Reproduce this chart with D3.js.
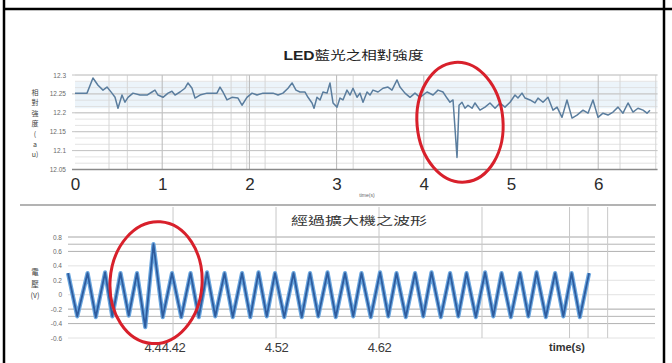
<!DOCTYPE html>
<html>
<head>
<meta charset="utf-8">
<script src="https://cdn.jsdelivr.net/npm/d3@7/dist/d3.min.js"></script>
<style>
  html, body { margin: 0; padding: 0; background: #fff; }
  svg { display: block; }
  text { font-family: "Liberation Sans", Arial, sans-serif; }
  .cjk { font-family: "Noto Sans CJK TC", "Noto Sans CJK SC", sans-serif; }
</style>
</head>
<body>
<svg id="chart" width="672" height="363"></svg>
<script>
// ---- LED blue-light relative intensity (upper panel) ----
const ledTime = [0.000,0.138,0.206,0.264,0.321,0.367,0.424,0.459,0.493,0.539,0.573,0.608,0.665,0.745,0.826,0.883,0.917,0.952,
  1.009,1.067,1.112,1.147,1.204,1.261,1.296,1.342,1.376,1.433,1.514,1.628,1.663,1.697,1.743,1.800,1.869,1.915,1.972,
  2.030,2.087,2.156,2.271,2.328,2.385,2.443,2.489,2.534,2.580,2.638,2.672,2.718,2.741,2.775,2.810,2.844,2.890,2.924,2.959,
  3.005,3.039,3.073,3.119,3.154,3.188,3.234,3.268,3.303,3.349,3.383,3.417,3.475,3.532,3.589,3.635,3.693,3.727,3.784,3.842,3.899,3.956,
  4.037,4.106,4.163,4.220,4.266,4.300,4.335,4.381,4.404,4.438,4.472,4.507,4.553,4.587,4.644,4.702,4.759,4.817,4.874,4.931,4.989,
  5.046,5.080,5.126,5.161,5.218,5.275,5.310,5.367,5.424,5.482,5.528,5.585,5.642,5.700,5.757,5.826,5.883,5.940,5.998,
  6.055,6.112,6.170,6.227,6.284,6.342,6.399,6.456,6.514,6.560,6.594];
const ledValue = [12.252,12.252,12.292,12.273,12.260,12.268,12.252,12.241,12.212,12.247,12.228,12.241,12.252,12.247,12.247,12.255,12.260,12.247,
  12.241,12.252,12.257,12.247,12.255,12.265,12.279,12.265,12.239,12.247,12.252,12.252,12.268,12.255,12.234,12.241,12.239,12.220,12.241,
  12.252,12.247,12.252,12.252,12.247,12.252,12.265,12.279,12.260,12.255,12.255,12.241,12.226,12.212,12.241,12.234,12.255,12.252,12.279,12.226,
  12.215,12.239,12.234,12.260,12.247,12.265,12.241,12.252,12.228,12.255,12.247,12.260,12.255,12.265,12.268,12.260,12.287,12.268,12.252,12.241,12.252,12.241,
  12.255,12.247,12.260,12.255,12.239,12.228,12.234,12.082,12.220,12.228,12.212,12.220,12.212,12.226,12.207,12.215,12.226,12.212,12.226,12.215,12.228,
  12.247,12.239,12.252,12.239,12.234,12.226,12.239,12.228,12.241,12.207,12.215,12.188,12.234,12.186,12.194,12.207,12.199,12.234,12.188,
  12.199,12.194,12.202,12.215,12.199,12.226,12.202,12.212,12.207,12.199,12.207];
const ledXTicks = [0, 1, 2, 3, 4, 5, 6];
const ledYTicks = [12.05, 12.1, 12.15, 12.2, 12.25, 12.3];
const ledYLabels = ["12.05", "12.1", "12.15", "12.2", "12.25", "12.3"];
const ledGridTimes = [0.39, 0.6, 1, 1.58, 1.79, 1.97, 2, 2.18, 3, 3.19, 4, 5, 5.18, 5.41, 5.56, 6, 6.25, 6.66];

// ---- Amplifier output waveform (lower panel) ----
const ampTime = [4.318,4.327,4.337,4.345,4.354,4.361,4.369,4.377,4.385,4.393,4.401,4.410,4.419,4.428,4.437,4.445,4.453,4.461,
  4.470,4.478,4.487,4.495,4.503,4.511,4.519,4.528,4.537,4.545,4.553,4.561,4.570,4.578,4.587,4.595,4.603,4.612,4.621,4.629,
  4.637,4.646,4.655,4.663,4.671,4.680,4.689,4.697,4.705,4.714,4.723,4.731,4.739,4.748,4.757,4.765,4.773,4.782,4.791,4.799,
  4.807,4.815,4.824];
const ampVolt = [0.30,-0.30,0.30,-0.31,0.31,-0.30,0.30,-0.29,0.30,-0.45,0.70,-0.31,0.30,-0.31,0.30,-0.31,0.31,-0.30,
  0.30,-0.31,0.30,-0.31,0.31,-0.30,0.30,-0.31,0.30,-0.31,0.30,-0.30,0.31,-0.31,0.30,-0.30,0.30,-0.31,0.31,-0.30,
  0.30,-0.31,0.30,-0.30,0.31,-0.31,0.30,-0.30,0.30,-0.31,0.31,-0.30,0.30,-0.31,0.30,-0.30,0.31,-0.31,0.30,-0.30,
  0.30,-0.31,0.30];
const ampXTicks = [4.4, 4.42, 4.52, 4.62];
const ampXLabels = ["4.4", "4.42", "4.52", "4.62"];
const ampYTicks = [-0.6, -0.4, -0.2, 0, 0.2, 0.4, 0.6, 0.8];
const ampYLabels = ["-0.6", "-0.4", "-0.2", "0", "0.2", "0.4", "0.6", "0.8"];
const ampGridTimes = [4.42, 4.52, 4.62, 4.72, 4.805, 4.823, 4.842];
const ampGridVolts = [0.8, 0.7, 0.6, -0.2, -0.3, -0.4];

const svg = d3.select("#chart");
svg.append("rect").attr("width", 672).attr("height", 363).attr("fill", "#fff");

// stacks one glyph per row to form a vertical axis name
function verticalName(g, glyphs, x, y0, step, size) {
  g.append("g").selectAll("text")
    .data(glyphs)
    .join("text")
    .attr("class", "cjk")
    .attr("x", x).attr("y", (d, i) => y0 + i * step)
    .attr("text-anchor", "middle")
    .attr("font-size", size).attr("fill", "#444")
    .text(d => d);
}

// ================= upper panel =================
const xTop = d3.scaleLinear().domain([0, 6.68]).range([75, 657.5]);
const yTop = d3.scaleLinear().domain([12.05, 12.3]).range([169.5, 75]);
const topG = svg.append("g");

// pale band behind the trace
topG.append("rect")
  .attr("x", xTop(0)).attr("width", xTop(6.68) - xTop(0))
  .attr("y", yTop(12.282)).attr("height", yTop(12.212) - yTop(12.282))
  .attr("fill", "#e4eff8").attr("opacity", 0.7);

// minor horizontal grid
topG.append("g").selectAll("line")
  .data(d3.range(12.05, 12.3001, 0.05 / 3))
  .join("line")
  .attr("x1", xTop(0)).attr("x2", xTop(6.68))
  .attr("y1", d => yTop(d)).attr("y2", d => yTop(d))
  .attr("stroke", "#dcdcdc").attr("stroke-width", 0.8);

// vertical grid
topG.append("g").selectAll("line")
  .data(ledGridTimes)
  .join("line")
  .attr("x1", d => xTop(d)).attr("x2", d => xTop(d))
  .attr("y1", yTop(12.3)).attr("y2", yTop(12.05))
  .attr("stroke", d => Number.isInteger(d) ? "#b8b8b8" : "#d6d6d6").attr("stroke-width", 1);

// major horizontal grid
topG.append("g").selectAll("line")
  .data(ledYTicks)
  .join("line")
  .attr("x1", xTop(0) - 3).attr("x2", xTop(6.68))
  .attr("y1", d => yTop(d)).attr("y2", d => yTop(d))
  .attr("stroke", d => d === 12.05 ? "#8a8a8a" : "#c4c4c4").attr("stroke-width", d => d === 12.05 ? 1.4 : 1);

// trace
const ledPts = ledTime.map((t, i) => [t, ledValue[i]]);
topG.append("path")
  .datum(ledPts)
  .attr("fill", "none")
  .attr("stroke", "#5a7d9e")
  .attr("stroke-width", 1.5)
  .attr("stroke-linejoin", "round")
  .attr("d", d3.line().x(d => xTop(d[0])).y(d => yTop(d[1])));

// axes
const topXAxis = topG.append("g")
  .attr("transform", `translate(0,${yTop(12.05)})`)
  .call(d3.axisBottom(xTop).tickValues(ledXTicks).tickSize(0).tickPadding(8).tickFormat(d3.format("d")));
topXAxis.select(".domain").remove();
topXAxis.selectAll("text").attr("font-size", 17).attr("fill", "#2b2b2b");

const topYAxis = topG.append("g")
  .attr("transform", `translate(66,0)`)
  .call(d3.axisLeft(yTop).tickValues(ledYTicks).tickSize(0).tickPadding(0)
    .tickFormat((d, i) => ledYLabels[i]));
topYAxis.select(".domain").remove();
topYAxis.selectAll("text").attr("font-size", 6.5).attr("fill", "#6a6a6a");

// titles and axis names
topG.append("text")
  .attr("x", 353.5).attr("y", 60)
  .attr("text-anchor", "middle")
  .attr("font-size", 12).attr("fill", "#222")
  .attr("textLength", 140).attr("lengthAdjust", "spacingAndGlyphs")
  .call(t => {
    t.append("tspan").attr("font-weight", "bold").text("LED");
    t.append("tspan").attr("class", "cjk").text("藍光之相對強度");
  });

verticalName(topG, ["相", "對", "強", "度", "(", "a", "u)"], 35, 95, 10.4, 7);

topG.append("text")
  .attr("x", 367).attr("y", 197)
  .attr("text-anchor", "middle")
  .attr("font-size", 5).attr("fill", "#666")
  .text("time(s)");

// ================= separator =================
svg.append("line")
  .attr("x1", 20).attr("x2", 656).attr("y1", 205).attr("y2", 205)
  .attr("stroke", "#9a9a9a").attr("stroke-width", 1.5);

// ================= lower panel =================
const xBot = d3.scaleLinear().domain([4.318, 4.888]).range([68, 655]);
const yBot = d3.scaleLinear().domain([-0.6, 0.8]).range([338, 237]);
const botG = svg.append("g");

// faint grid at every tick
botG.append("g").selectAll("line")
  .data(ampYTicks)
  .join("line")
  .attr("x1", xBot(4.318)).attr("x2", xBot(4.888))
  .attr("y1", d => yBot(d)).attr("y2", d => yBot(d))
  .attr("stroke", "#e2e2e2").attr("stroke-width", 1);

botG.append("g").selectAll("line")
  .data(ampGridVolts)
  .join("line")
  .attr("x1", xBot(4.318)).attr("x2", xBot(4.888))
  .attr("y1", d => yBot(d)).attr("y2", d => yBot(d))
  .attr("stroke", "#b4b4b4").attr("stroke-width", 1);

botG.append("g").selectAll("line")
  .data(ampGridTimes)
  .join("line")
  .attr("x1", d => xBot(d)).attr("x2", d => xBot(d))
  .attr("y1", 207).attr("y2", yBot(-0.6))
  .attr("stroke", "#c8c8c8").attr("stroke-width", 1);

// waveform: soft wide stroke under a darker core
const ampPts = ampTime.map((t, i) => [t, ampVolt[i]]);
const ampLine = d3.line().x(d => xBot(d[0])).y(d => yBot(d[1]));
botG.append("path")
  .datum(ampPts)
  .attr("fill", "none").attr("stroke", "#6aa6df")
  .attr("stroke-width", 4.2).attr("stroke-linejoin", "round")
  .attr("d", ampLine);
botG.append("path")
  .datum(ampPts)
  .attr("fill", "none").attr("stroke", "#2e5c9e")
  .attr("stroke-width", 1.8).attr("stroke-linejoin", "round")
  .attr("d", ampLine);

const botXAxis = botG.append("g")
  .attr("transform", `translate(0,${yBot(-0.6)})`)
  .call(d3.axisBottom(xBot).tickValues(ampXTicks).tickSize(0).tickPadding(5)
    .tickFormat((d, i) => ampXLabels[i]));
botXAxis.select(".domain").remove();
botXAxis.selectAll("text").attr("font-size", 13).attr("letter-spacing", -0.4).attr("fill", "#3a3a3a");

const botYAxis = botG.append("g")
  .attr("transform", `translate(62,0)`)
  .call(d3.axisLeft(yBot).tickValues(ampYTicks).tickSize(0).tickPadding(0)
    .tickFormat((d, i) => ampYLabels[i]));
botYAxis.select(".domain").remove();
botYAxis.selectAll("text").attr("font-size", 6.5).attr("fill", "#6a6a6a");

botG.append("text").attr("class", "cjk")
  .attr("x", 359).attr("y", 225)
  .attr("text-anchor", "middle")
  .attr("font-size", 11.5).attr("fill", "#333")
  .attr("textLength", 136).attr("lengthAdjust", "spacingAndGlyphs")
  .text("經過擴大機之波形");

verticalName(botG, ["電", "壓", "(v)"], 35, 275, 11.5, 7.5);

botG.append("text")
  .attr("x", 567).attr("y", 351)
  .attr("text-anchor", "middle")
  .attr("font-size", 11).attr("font-weight", "bold").attr("fill", "#333")
  .text("time(s)");

// ================= highlight rings =================
const rings = [
  { cx: xTop(4.415), cy: yTop(12.175), rx: 43, ry: 60, rot: -5 },
  { cx: xBot(4.4035), cy: yBot(0.167), rx: 46, ry: 61, rot: 4 }
];
svg.append("g").selectAll("ellipse")
  .data(rings)
  .join("ellipse")
  .attr("cx", 0).attr("cy", 0)
  .attr("rx", d => d.rx).attr("ry", d => d.ry)
  .attr("transform", d => `translate(${d.cx},${d.cy}) rotate(${d.rot})`)
  .attr("fill", "none").attr("stroke", "#d8202b").attr("stroke-width", 3);

// ================= frame =================
const frame = svg.append("g").attr("stroke", "#000").attr("stroke-width", 2.5);
frame.append("line").attr("x1", 3).attr("x2", 672).attr("y1", 9).attr("y2", 9);
frame.append("line").attr("x1", 4).attr("x2", 4).attr("y1", 0).attr("y2", 363);
frame.append("line").attr("x1", 664).attr("x2", 664).attr("y1", 0).attr("y2", 363);
</script>
</body>
</html>
